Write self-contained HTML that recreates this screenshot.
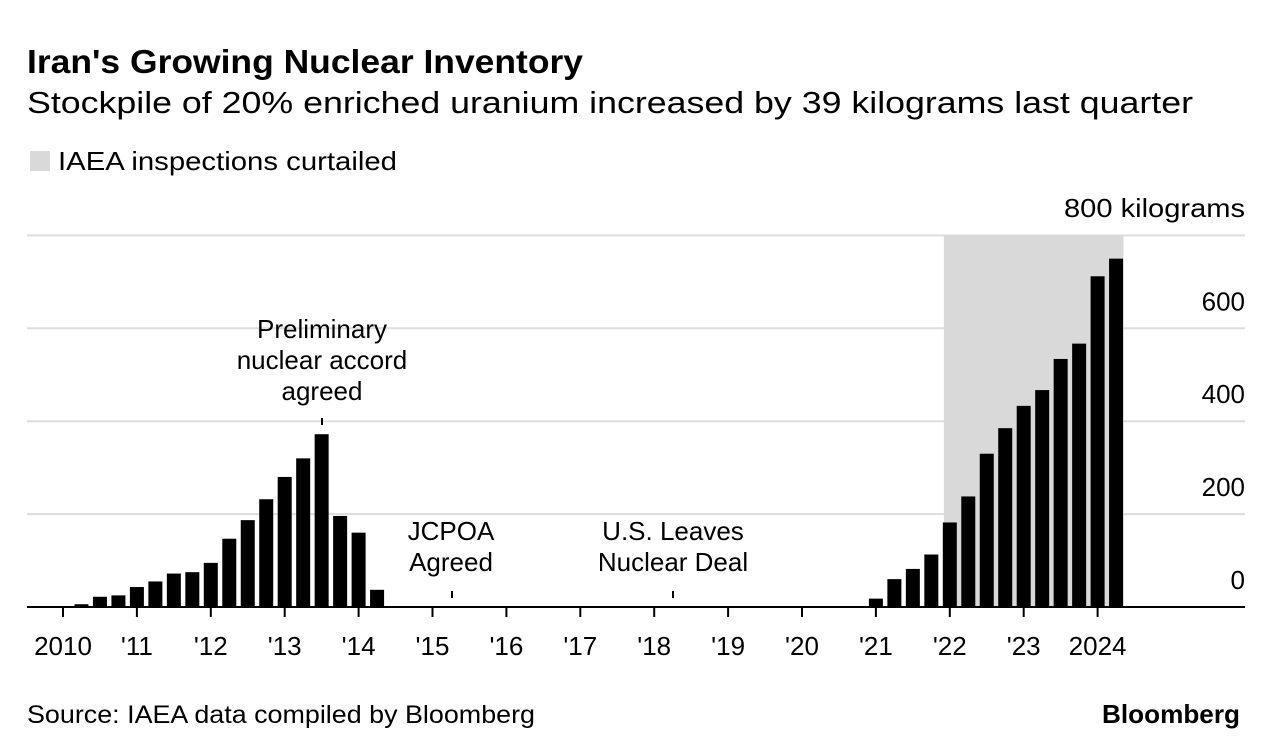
<!DOCTYPE html>
<html><head><meta charset="utf-8"><style>
body{margin:0;background:#fff;font-family:"Liberation Sans",sans-serif;}
svg{display:block}
</style></head><body>
<svg width="1279" height="756" id="c">
<text x="27" y="73" font-size="33" font-weight="bold" fill="#000" textLength="556" lengthAdjust="spacingAndGlyphs">Iran's Growing Nuclear Inventory</text>
<text x="27" y="113" font-size="31" fill="#000" textLength="1166" lengthAdjust="spacingAndGlyphs">Stockpile of 20% enriched uranium increased by 39 kilograms last quarter</text>
<rect x="30" y="151" width="20" height="20" fill="#d9d9d9"/>
<text x="58" y="170" font-size="26" fill="#000" textLength="339" lengthAdjust="spacingAndGlyphs">IAEA inspections curtailed</text>
<text x="1245" y="217" font-size="26" text-anchor="end" textLength="181" lengthAdjust="spacingAndGlyphs">800 kilograms</text>
<g id="grid"></g><g id="shade"></g><g id="bars"></g><g id="xaxis"></g>
<g font-size="26" text-anchor="middle" fill="#000">
<text x="322" y="338"><tspan x="322">Preliminary</tspan><tspan x="322" dy="31">nuclear accord</tspan><tspan x="322" dy="31">agreed</tspan></text>
<line x1="322" y1="418" x2="322" y2="425" stroke="#000" stroke-width="2"/>
<text x="451" y="540"><tspan x="451">JCPOA</tspan><tspan x="451" dy="31">Agreed</tspan></text>
<line x1="452" y1="591" x2="452" y2="598" stroke="#000" stroke-width="2"/>
<text x="673" y="540"><tspan x="673">U.S. Leaves</tspan><tspan x="673" dy="31">Nuclear Deal</tspan></text>
<line x1="673" y1="591" x2="673" y2="598" stroke="#000" stroke-width="2"/>
</g>
<text x="27" y="723" font-size="25" textLength="508" lengthAdjust="spacingAndGlyphs">Source: IAEA data compiled by Bloomberg</text>
<text x="1240" y="723" font-size="26" font-weight="bold" text-anchor="end" textLength="138" lengthAdjust="spacingAndGlyphs">Bloomberg</text>
</svg>
<script>
const early=[6,22,25,43,55,72,75,95,147,187,232,280,320,372,196,160,37];
const middle=Array(26).fill(1.5);
const late=[18,60,82,113,182,238,330,385,433,467,534,567,712,750];
const values=early.concat(middle,late);
const startYear=2010.25;
const yTicks=[0,200,400,600,800];
const yLabels=["0","200","400","600",""];
const xTickYears=[2010,2011,2012,2013,2014,2015,2016,2017,2018,2019,2020,2021,2022,2023,2024];
const xTickLabels=["2010","'11","'12","'13","'14","'15","'16","'17","'18","'19","'20","'21","'22","'23","2024"];
const shadeRange=[2021.92,2024.35];
const NS="http://www.w3.org/2000/svg";
const X=y=>63+(y-2010)*73.9;
const Y=v=>607-v*0.4645;
function mk(t,a,p){const e=document.createElementNS(NS,t);for(const k in a)e.setAttribute(k,a[k]);p.appendChild(e);return e;}
const grid=document.getElementById('grid');
yTicks.forEach((t,i)=>{
 if(t>0){const l=mk('line',{x1:27,x2:1245,y1:Y(t),y2:Y(t),stroke:'#ddd','stroke-width':2},grid);
 
 }
 if(yLabels[i]){const tx=mk('text',{x:1245,y:Y(t)-18,'font-size':26,'text-anchor':'end'},grid);tx.textContent=yLabels[i];
 
 }
});
const sh=mk('rect',{x:X(shadeRange[0]),y:Y(800),width:X(shadeRange[1])-X(shadeRange[0]),height:Y(0)-Y(800),fill:'#d9d9d9'},document.getElementById('shade'));


const bars=document.getElementById('bars');
values.forEach((v,i)=>{
 const cx=X(startYear+i*0.25);
 const r=mk('rect',{x:cx-7,y:Y(v),width:14,height:Y(0)-Y(v),fill:'#000'},bars);
 
 
});
const xa=document.getElementById('xaxis');
const base=mk('line',{x1:27,x2:1245,y1:607,y2:607,stroke:'#000','stroke-width':2},xa);


xTickYears.forEach((yr,i)=>{
 mk('line',{x1:X(yr),x2:X(yr),y1:607,y2:617,stroke:'#000','stroke-width':2},xa);
 const t=mk('text',{x:X(yr),y:655,'font-size':26,'text-anchor':'middle'},xa);t.textContent=xTickLabels[i];
 
 
});
</script>
</body></html>
